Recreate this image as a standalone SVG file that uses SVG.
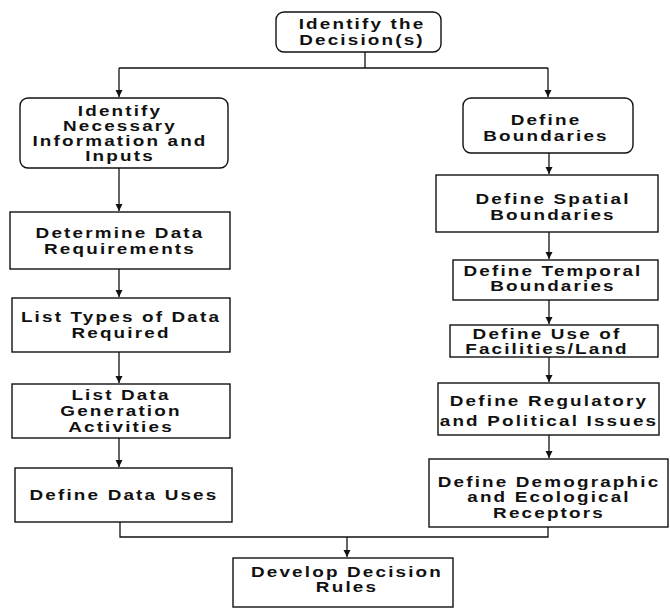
<svg xmlns="http://www.w3.org/2000/svg" width="670" height="613" viewBox="0 0 670 613">
  <style>
    .box { fill: #ffffff; stroke: #111111; stroke-width: 1.4; }
    .ln { fill: none; stroke: #111111; stroke-width: 1.3; }
    .t { font-family: "Liberation Sans", Arial, Helvetica, sans-serif; font-weight: bold; font-size: 14px; letter-spacing: 1.6px; text-anchor: middle; fill: #111111; }
  </style>
  <defs>
    <marker id="arrow" markerUnits="userSpaceOnUse" markerWidth="8" markerHeight="8" refX="7" refY="4" orient="auto">
      <path d="M0,0.5 L7,4 L0,7.5 z" fill="#111111"/>
    </marker>
  </defs>
  <rect width="670" height="613" fill="#ffffff"/>

  <!-- connectors -->
  <g id="connectors">
    <path class="ln" d="M365,52 V68"/>
    <path class="ln" d="M119,68 H548"/>
    <path class="ln" d="M119,68 V97" marker-end="url(#arrow)"/>
    <path class="ln" d="M548,68 V97" marker-end="url(#arrow)"/>
    <!-- left column -->
    <path class="ln" d="M119,168 V211" marker-end="url(#arrow)"/>
    <path class="ln" d="M119,269 V297" marker-end="url(#arrow)"/>
    <path class="ln" d="M119,352 V383" marker-end="url(#arrow)"/>
    <path class="ln" d="M119,438 V467" marker-end="url(#arrow)"/>
    <!-- right column -->
    <path class="ln" d="M549,153 V174" marker-end="url(#arrow)"/>
    <path class="ln" d="M549,232 V259" marker-end="url(#arrow)"/>
    <path class="ln" d="M549,300 V324" marker-end="url(#arrow)"/>
    <path class="ln" d="M549,357 V382" marker-end="url(#arrow)"/>
    <path class="ln" d="M549,435 V458" marker-end="url(#arrow)"/>
    <!-- merge into final step -->
    <path class="ln" d="M120,522 V537 H548 V527"/>
    <path class="ln" d="M347,537 V557" marker-end="url(#arrow)"/>
  </g>

  <g id="identify-decision">
    <rect class="box" x="276" y="12" width="165" height="40" rx="8"/>
    <text class="t" transform="translate(362,0) scale(1.35,1)"><tspan x="0" y="29">Identify the</tspan><tspan x="0" y="45">Decision(s)</tspan></text>
  </g>

  <g id="identify-info">
    <rect class="box" x="20" y="98" width="208" height="70" rx="8"/>
    <text class="t" transform="translate(120,0) scale(1.35,1)"><tspan x="0" y="116">Identify</tspan><tspan x="0" y="131">Necessary</tspan><tspan x="0" y="146">Information and</tspan><tspan x="0" y="161">Inputs</tspan></text>
  </g>

  <g id="data-requirements">
    <rect class="box" x="10" y="212" width="220" height="57"/>
    <text class="t" transform="translate(120,0) scale(1.35,1)"><tspan x="0" y="238">Determine Data</tspan><tspan x="0" y="254">Requirements</tspan></text>
  </g>

  <g id="data-types">
    <rect class="box" x="12" y="298" width="218" height="54"/>
    <text class="t" transform="translate(121,0) scale(1.35,1)"><tspan x="0" y="322">List Types of Data</tspan><tspan x="0" y="338">Required</tspan></text>
  </g>

  <g id="data-generation">
    <rect class="box" x="12" y="384" width="218" height="54"/>
    <text class="t" transform="translate(121,0) scale(1.35,1)"><tspan x="0" y="400">List Data</tspan><tspan x="0" y="416">Generation</tspan><tspan x="0" y="432">Activities</tspan></text>
  </g>

  <g id="data-uses">
    <rect class="box" x="15" y="468" width="217" height="54"/>
    <text class="t" transform="translate(124,0) scale(1.35,1)"><tspan x="0" y="500">Define Data Uses</tspan></text>
  </g>

  <g id="define-boundaries">
    <rect class="box" x="463" y="98" width="170" height="55" rx="8"/>
    <text class="t" transform="translate(546,0) scale(1.35,1)"><tspan x="0" y="125">Define</tspan><tspan x="0" y="141">Boundaries</tspan></text>
  </g>

  <g id="spatial">
    <rect class="box" x="436" y="175" width="222" height="57"/>
    <text class="t" transform="translate(553,0) scale(1.35,1)"><tspan x="0" y="204">Define Spatial</tspan><tspan x="0" y="220">Boundaries</tspan></text>
  </g>

  <g id="temporal">
    <rect class="box" x="453" y="260" width="205" height="40"/>
    <text class="t" transform="translate(553,0) scale(1.35,1)"><tspan x="0" y="276">Define Temporal</tspan><tspan x="0" y="291">Boundaries</tspan></text>
  </g>

  <g id="land-use">
    <rect class="box" x="450" y="325" width="208" height="32"/>
    <text class="t" transform="translate(547,0) scale(1.35,1)"><tspan x="0" y="339">Define Use of</tspan><tspan x="0" y="354">Facilities/Land</tspan></text>
  </g>

  <g id="regulatory">
    <rect class="box" x="438" y="383" width="221" height="52"/>
    <text class="t" transform="translate(549,0) scale(1.35,1)"><tspan x="0" y="406">Define Regulatory</tspan><tspan x="0" y="426">and Political Issues</tspan></text>
  </g>

  <g id="receptors">
    <rect class="box" x="429" y="459" width="239" height="68"/>
    <text class="t" transform="translate(549,0) scale(1.35,1)"><tspan x="0" y="487">Define Demographic</tspan><tspan x="0" y="502">and Ecological</tspan><tspan x="0" y="518">Receptors</tspan></text>
  </g>

  <g id="decision-rules">
    <rect class="box" x="233" y="558" width="220" height="49"/>
    <text class="t" transform="translate(347,0) scale(1.35,1)"><tspan x="0" y="577">Develop Decision</tspan><tspan x="0" y="592">Rules</tspan></text>
  </g>
</svg>
